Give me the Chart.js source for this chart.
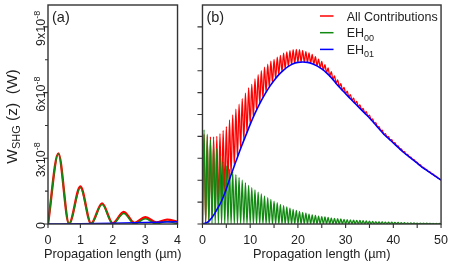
<!DOCTYPE html>
<html>
<head>
<meta charset="utf-8">
<script src="https://cdn.jsdelivr.net/npm/chart.js@4.4.1/dist/chart.umd.min.js"></script>
<style>
html, body { margin: 0; padding: 0; background: #fff; }
#wrap { position: relative; width: 457px; height: 266px; }
canvas { position: absolute; top: 0; }
</style>
</head>
<body>
<div id="wrap">
  <canvas id="chartA" width="190" height="266" style="left:0"></canvas>
  <canvas id="chartB" width="267" height="266" style="left:190px"></canvas>
</div>
<script>
// values in units of 1e-8 W, positions in µm

// panel (a): 0 - 4 µm
const zA    = [0, 0.32, 0.65, 1.0, 1.33, 1.67, 2.0, 2.34, 2.67, 3.01, 3.34, 3.68, 4.0];
const allA  = [0, 3.22, 0.01, 1.71, 0.02, 0.94, 0.03, 0.55, 0.05, 0.31, 0.07, 0.2, 0.1];
const eh00A = [0, 3.2, 0, 1.65, 0, 0.89, 0, 0.48, 0, 0.24, 0, 0.12, 0];
const zBlueA = [0, 1, 2, 3, 4];
const eh01A  = [0, 0.015, 0.035, 0.065, 0.1];

// panel (b): 0 - 50 µm, one point at every max / min of the beating
const zB = [
  0, 0.33, 0.67, 1, 1.33, 1.67, 2, 2.33, 2.67, 3, 3.33, 3.67, 4, 4.33, 4.67,
  5, 5.33, 5.67, 6, 6.33, 6.67, 7, 7.33, 7.67, 8, 8.33, 8.67, 9, 9.33, 9.67,
  10, 10.33, 10.67, 11, 11.33, 11.67, 12, 12.33, 12.67, 13, 13.33, 13.67, 14, 14.33, 14.67,
  15, 15.33, 15.67, 16, 16.33, 16.67, 17, 17.33, 17.67, 18, 18.33, 18.67, 19, 19.33, 19.67,
  20, 20.33, 20.67, 21, 21.33, 21.67, 22, 22.33, 22.67, 23, 23.33, 23.67, 24, 24.33, 24.67,
  25, 25.33, 25.67, 26, 26.33, 26.67, 27, 27.33, 27.67, 28, 28.33, 28.67, 29, 29.33, 29.67,
  30, 30.33, 30.67, 31, 31.33, 31.67, 32, 32.33, 32.67, 33, 33.33, 33.67, 34, 34.33, 34.67,
  35, 35.33, 35.67, 36, 36.33, 36.67, 37, 37.33, 37.67, 38, 38.33, 38.67, 39, 39.33, 39.67,
  40, 40.33, 40.67, 41, 41.33, 41.67, 42, 42.33, 42.67, 43, 43.33, 43.67, 44, 44.33, 44.67,
  45, 45.33, 45.67, 46, 46.33, 46.67, 47, 47.33, 47.67, 48, 48.33, 48.67, 49, 49.33, 49.67,
  50
];
const allB = [
  0, 4.1, 0.05, 4.0, 0.15, 3.98, 0.3, 3.98, 0.53, 4.0, 0.78, 4.12, 1.05, 4.27, 1.42,
  4.45, 1.82, 4.75, 2.25, 4.98, 2.65, 5.24, 3.05, 5.47, 3.45, 5.72, 3.82, 5.97, 4.18, 6.22,
  4.55, 6.38, 4.88, 6.62, 5.2, 6.82, 5.5, 7.0, 5.77, 7.16, 6.02, 7.3, 6.25, 7.44, 6.45,
  7.52, 6.64, 7.62, 6.82, 7.7, 6.96, 7.8, 7.09, 7.86, 7.2, 7.92, 7.28, 7.96, 7.34, 7.97,
  7.38, 7.96, 7.39, 7.93, 7.39, 7.87, 7.38, 7.81, 7.34, 7.74, 7.29, 7.64, 7.22, 7.53, 7.13,
  7.42, 7.02, 7.28, 6.9, 7.13, 6.75, 6.96, 6.59, 6.76, 6.42, 6.58, 6.26, 6.41, 6.1, 6.24,
  5.95, 6.07, 5.8, 5.91, 5.65, 5.75, 5.5, 5.6, 5.35, 5.44, 5.21, 5.28, 5.06, 5.13, 4.91,
  4.97, 4.76, 4.8, 4.6, 4.63, 4.43, 4.45, 4.27, 4.28, 4.1, 4.12, 3.97, 3.99, 3.83, 3.85,
  3.7, 3.71, 3.57, 3.57, 3.43, 3.43, 3.3, 3.3, 3.18, 3.18, 3.06, 3.05, 2.95, 2.94, 2.84,
  2.82, 2.72, 2.7, 2.6, 2.59, 2.5, 2.48, 2.4, 2.38, 2.3, 2.28, 2.2, 2.18, 2.1, 2.07,
  2.0
];
const eh00B = [
  0, 4.3, 0, 4.1, 0, 3.85, 0, 3.65, 0, 3.45, 0, 3.1, 0, 2.85, 0,
  2.65, 0, 2.5, 0, 2.38, 0, 2.25, 0, 2.12, 0, 2.0, 0, 1.88, 0, 1.76,
  0, 1.66, 0, 1.56, 0, 1.46, 0, 1.37, 0, 1.28, 0, 1.2, 0, 1.12, 0,
  1.04, 0, 0.97, 0, 0.9, 0, 0.84, 0, 0.78, 0, 0.72, 0, 0.67, 0, 0.62,
  0, 0.57, 0, 0.53, 0, 0.49, 0, 0.45, 0, 0.42, 0, 0.39, 0, 0.36, 0,
  0.34, 0, 0.32, 0, 0.3, 0, 0.28, 0, 0.26, 0, 0.245, 0, 0.23, 0, 0.215,
  0, 0.2, 0, 0.19, 0, 0.18, 0, 0.17, 0, 0.16, 0, 0.15, 0, 0.14, 0,
  0.13, 0, 0.12, 0, 0.11, 0, 0.1, 0, 0.095, 0, 0.09, 0, 0.085, 0, 0.08,
  0, 0.075, 0, 0.07, 0, 0.065, 0, 0.06, 0, 0.055, 0, 0.05, 0, 0.047, 0,
  0.044, 0, 0.04, 0, 0.037, 0, 0.034, 0, 0.03, 0, 0.028, 0, 0.025, 0, 0.022,
  0
];
const zBlueB = [
  0, 1, 2, 3, 4, 5, 6, 7, 8, 9, 10, 11, 12, 13, 14, 15, 16, 17, 18, 19, 20, 21, 22, 23, 24, 25,
  26, 27, 28, 29, 30, 31, 32, 33, 34, 35, 36, 37, 38, 39, 40, 41, 42, 43, 44, 45, 46, 47, 48, 49, 50
];
const eh01B = [
  0, 0.07, 0.3, 0.65, 1.05, 1.6, 2.25, 2.85, 3.45, 4.0,
  4.55, 5.05, 5.5, 5.9, 6.25, 6.55, 6.82, 7.03, 7.2, 7.32,
  7.38, 7.4, 7.38, 7.32, 7.22, 7.08, 6.9, 6.68, 6.42, 6.18,
  5.95, 5.72, 5.5, 5.28, 5.06, 4.84, 4.6, 4.35, 4.1, 3.9,
  3.7, 3.5, 3.3, 3.12, 2.95, 2.78, 2.6, 2.45, 2.3, 2.15, 2.0
];

// axis ticks and texts
const yMajorA = [0, 3, 6, 9];
const yLabelsA = [['0', ''], ['3x10', '-8'], ['6x10', '-8'], ['9x10', '-8']];
const yMinorA = [1.5, 4.5, 7.5];
const yTicksB = [0, 1, 2, 3, 4, 5, 6, 7, 8, 9];
const seriesNames = [['All Contributions', ''], ['EH', '00'], ['EH', '01']];
const xTitle = 'Propagation length (µm)';

const FONT = '"Liberation Sans", Arial, sans-serif';
const RED = '#ff0000', GREEN = '#128a12', BLUE = '#0000ff', INK = '#222';

Chart.defaults.font.family = FONT;
Chart.defaults.color = INK;

function pts(xs, ys) { return xs.map((x, i) => ({ x: x, y: ys[i] })); }

// text made of [string, size, baseline shift] pieces
function pieces(ctx, parts, center) {
  let w = 0;
  parts.forEach(p => { ctx.font = p[1] + 'px ' + FONT; w += ctx.measureText(p[0]).width; });
  let x = center ? -w / 2 : 0;
  parts.forEach(p => {
    ctx.font = p[1] + 'px ' + FONT;
    ctx.fillText(p[0], x, p[2]);
    x += ctx.measureText(p[0]).width;
  });
}

function line(label, data, color, width, order) {
  return {
    label: label, data: data, borderColor: color, borderWidth: width,
    pointRadius: 0, fill: false, order: order, cubicInterpolationMode: 'monotone'
  };
}

function xAxis(max, step) {
  return {
    type: 'linear', min: 0, max: max,
    grid: { display: false, drawTicks: false }, border: { display: false },
    ticks: {
      stepSize: step, autoSkip: false, maxRotation: 0, padding: 9,
      font: { size: 12.5 }, color: INK,
      callback: v => (v % (step * (max > 10 ? 2 : 1)) === 0 ? String(v) : '')
    },
    afterFit: s => { s.height = 42; }
  };
}

function yAxis(width) {
  return {
    type: 'linear', min: 0, max: 10,
    grid: { display: false, drawTicks: false }, border: { display: false },
    ticks: { display: false },
    afterFit: s => { s.width = width; }
  };
}

// box around the plot, x title and the outward x ticks
function frame(ctx, a, x) {
  ctx.fillStyle = INK;
  ctx.font = '12.8px ' + FONT;
  ctx.textAlign = 'center';
  ctx.textBaseline = 'alphabetic';
  ctx.fillText(xTitle, (a.left + a.right) / 2, 257.5);
  ctx.textAlign = 'left';
  ctx.strokeStyle = '#333';
  ctx.lineWidth = 1.4;
  ctx.strokeRect(a.left, a.top, a.right - a.left, a.bottom - a.top);
  ctx.lineWidth = 1.1;
  ctx.beginPath();
  x.ticks.forEach(t => {
    const px = x.getPixelForValue(t.value);
    ctx.moveTo(px, a.bottom); ctx.lineTo(px, a.bottom + 4);
  });
}

const chartA = new Chart(document.getElementById('chartA'), {
  type: 'line',
  data: {
    datasets: [
      line('All Contributions', pts(zA, allA), RED, 2.4, 3),
      line('EH00', pts(zA, eh00A), GREEN, 1.4, 2),
      line('EH01', pts(zBlueA, eh01A), BLUE, 1.5, 1)
    ]
  },
  options: {
    responsive: false, animation: false, events: [],
    layout: { padding: { top: 5, right: 5, left: 0, bottom: 0 } },
    plugins: { legend: { display: false }, tooltip: { enabled: false } },
    scales: { x: xAxis(4, 1), y: yAxis(48) }
  },
  plugins: [{
    id: 'decorA',
    afterDraw(chart) {
      const { ctx, chartArea: a, scales: { x, y } } = chart;
      ctx.save();
      frame(ctx, a, x);
      yMajorA.forEach(v => { const py = y.getPixelForValue(v); ctx.moveTo(a.left - 5, py); ctx.lineTo(a.left, py); });
      yMinorA.forEach(v => { const py = y.getPixelForValue(v); ctx.moveTo(a.left - 3, py); ctx.lineTo(a.left, py); });
      ctx.stroke();

      ctx.fillStyle = INK;
      // rotated tick labels with exponent
      yMajorA.forEach((v, i) => {
        ctx.save();
        ctx.translate(a.left - 3, y.getPixelForValue(v) + 1.5);
        ctx.rotate(-Math.PI / 2);
        pieces(ctx, [[yLabelsA[i][0], 12.5, 0], [yLabelsA[i][1], 9, -5]], true);
        ctx.restore();
      });
      // axis title  W_SHG (z) (W)
      ctx.save();
      ctx.translate(17, (a.top + a.bottom) / 2 + 2);
      ctx.rotate(-Math.PI / 2);
      pieces(ctx, [['W', 15.5, 0], ['SHG', 11, 3], [' (z)  (W)', 15.5, 0]], true);
      ctx.restore();

      ctx.font = '14.5px ' + FONT;
      ctx.fillText('(a)', a.left + 4, a.top + 16.5);
      ctx.restore();
    }
  }]
});

const chartB = new Chart(document.getElementById('chartB'), {
  type: 'line',
  data: {
    datasets: [
      line('All Contributions', pts(zB, allB), RED, 1.3, 3),
      line('EH00', pts(zB, eh00B), GREEN, 1.3, 2),
      line('EH01', pts(zBlueB, eh01B), BLUE, 1.6, 1)
    ]
  },
  options: {
    responsive: false, animation: false, events: [],
    layout: { padding: { top: 5, right: 15.3, left: 0, bottom: 0 } },
    plugins: { legend: { display: false }, tooltip: { enabled: false } },
    scales: { x: xAxis(50, 5), y: yAxis(7) }
  },
  plugins: [{
    id: 'decorB',
    afterDraw(chart) {
      const { ctx, chartArea: a, scales: { x, y } } = chart;
      ctx.save();
      frame(ctx, a, x);
      yTicksB.forEach(v => { const py = y.getPixelForValue(v); ctx.moveTo(a.left - 5, py); ctx.lineTo(a.left, py); });
      ctx.stroke();

      // legend
      const colors = [RED, GREEN, BLUE];
      seriesNames.forEach((n, i) => {
        const ly = 16 + i * 16.7;
        ctx.strokeStyle = colors[i];
        ctx.lineWidth = 1.5;
        ctx.beginPath(); ctx.moveTo(130, ly); ctx.lineTo(143.5, ly); ctx.stroke();
        ctx.fillStyle = INK;
        ctx.save();
        ctx.translate(156.7, ly + 4.5);
        pieces(ctx, [[n[0], 12.5, 0], [n[1], 9, 3.5]], false);
        ctx.restore();
      });

      ctx.fillStyle = INK;
      ctx.font = '14.5px ' + FONT;
      ctx.fillText('(b)', a.left + 4, a.top + 16.5);
      ctx.restore();
    }
  }]
});
</script>
</body>
</html>
